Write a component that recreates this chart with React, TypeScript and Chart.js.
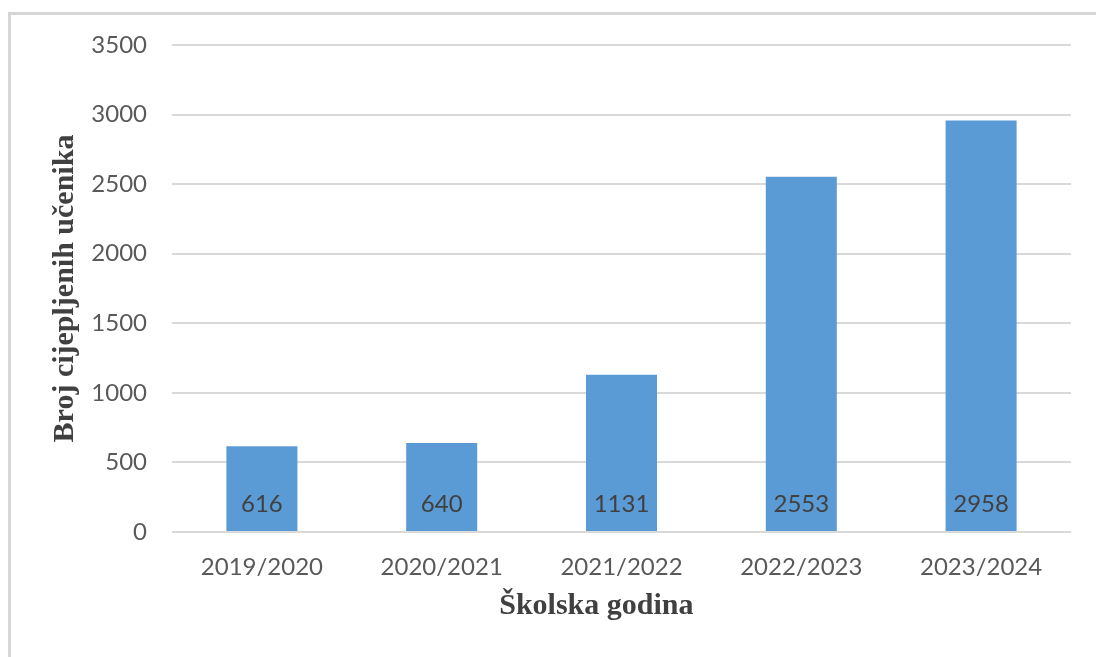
import React, { useEffect, useRef } from "react";
import { Chart, registerables } from "chart.js";

Chart.register(...registerables);

const categories = ["2019/2020", "2020/2021", "2021/2022", "2022/2023", "2023/2024"];
const values = [616, 640, 1131, 2553, 2958];
const yTitle = "Broj cijepljenih učenika";
const xTitle = "Školska godina";

const barColor = "#5b9bd5";
const tickFont = "Lato, 'Open Sans', sans-serif";
const titleFont = "'Liberation Serif', 'DejaVu Serif', serif";

const dataLabelPlugin = {
  id: "barValueLabels",
  afterDatasetsDraw(chart: any) {
    const { ctx } = chart;
    const meta = chart.getDatasetMeta(0);
    const yScale = chart.scales.y;
    const base = yScale.getPixelForValue(0);
    ctx.save();
    ctx.font = `24px ${tickFont}`;
    ctx.fillStyle = "#404040";
    ctx.textAlign = "center";
    ctx.textBaseline = "middle";
    meta.data.forEach((bar: any, i: number) => {
      ctx.fillText(String(values[i]), bar.x, base - 28);
    });
    ctx.restore();
  },
};

const xTitlePlugin = {
  id: "xAxisTitle",
  afterDraw(chart: any) {
    const { ctx, chartArea } = chart;
    ctx.save();
    ctx.font = `bold 30px ${titleFont}`;
    ctx.fillStyle = "#404040";
    ctx.textAlign = "center";
    ctx.textBaseline = "middle";
    const cx = chartArea.left + chartArea.width * 0.472;
    ctx.fillText(xTitle, cx, chartArea.bottom + 74);
    ctx.restore();
  },
};

export default function App() {
  const canvasRef = useRef<HTMLCanvasElement | null>(null);

  useEffect(() => {
    const canvas = canvasRef.current;
    if (!canvas) return;
    const chart = new Chart(canvas, {
      type: "bar",
      data: {
        labels: categories,
        datasets: [
          {
            data: values,
            backgroundColor: barColor,
            borderWidth: 0,
            categoryPercentage: 1,
            barPercentage: 0.395,
          },
        ],
      },
      options: {
        responsive: false,
        animation: false,
        layout: { padding: { top: 45, right: 25, left: 0, bottom: 0 } },
        plugins: {
          legend: { display: false },
          tooltip: { enabled: false },
        },
        scales: {
          x: {
            afterFit: (s: any) => {
              s.height = 125;
            },
            grid: { display: false, drawTicks: false },
            border: { display: false },
            ticks: {
              color: "#595959",
              font: { family: tickFont, size: 24 },
              padding: 21,
              maxRotation: 0,
            },
            title: { display: false, text: xTitle },
          },
          y: {
            min: 0,
            max: 3500,
            afterFit: (s: any) => {
              s.width = 172;
            },
            grid: { color: "#d9d9d9", lineWidth: 2, drawTicks: false },
            border: { display: false },
            ticks: {
              stepSize: 500,
              color: "#595959",
              font: { family: tickFont, size: 24 },
              padding: 25,
              callback: (v: any) => String(v),
            },
            title: {
              display: true,
              text: yTitle,
              color: "#404040",
              font: { family: titleFont, size: 30, weight: "bold" },
              padding: { top: 47, bottom: 0 },
            },
          },
        },
      },
      plugins: [dataLabelPlugin, xTitlePlugin],
    });
    return () => chart.destroy();
  }, []);

  return (
    <div
      style={{
        position: "absolute",
        left: 0,
        top: 0,
        width: 1096,
        height: 657,
        background: "#ffffff",
        overflow: "hidden",
      }}
    >
      <div
        style={{
          position: "absolute",
          left: 8,
          top: 12,
          right: -10,
          bottom: -10,
          borderTop: "3px solid #d6d6d6",
          borderLeft: "3px solid #d6d6d6",
        }}
      />
      <canvas
        ref={canvasRef}
        width={1096}
        height={657}
        style={{ position: "absolute", left: 0, top: 0, width: 1096, height: 657 }}
      />
    </div>
  );
}
